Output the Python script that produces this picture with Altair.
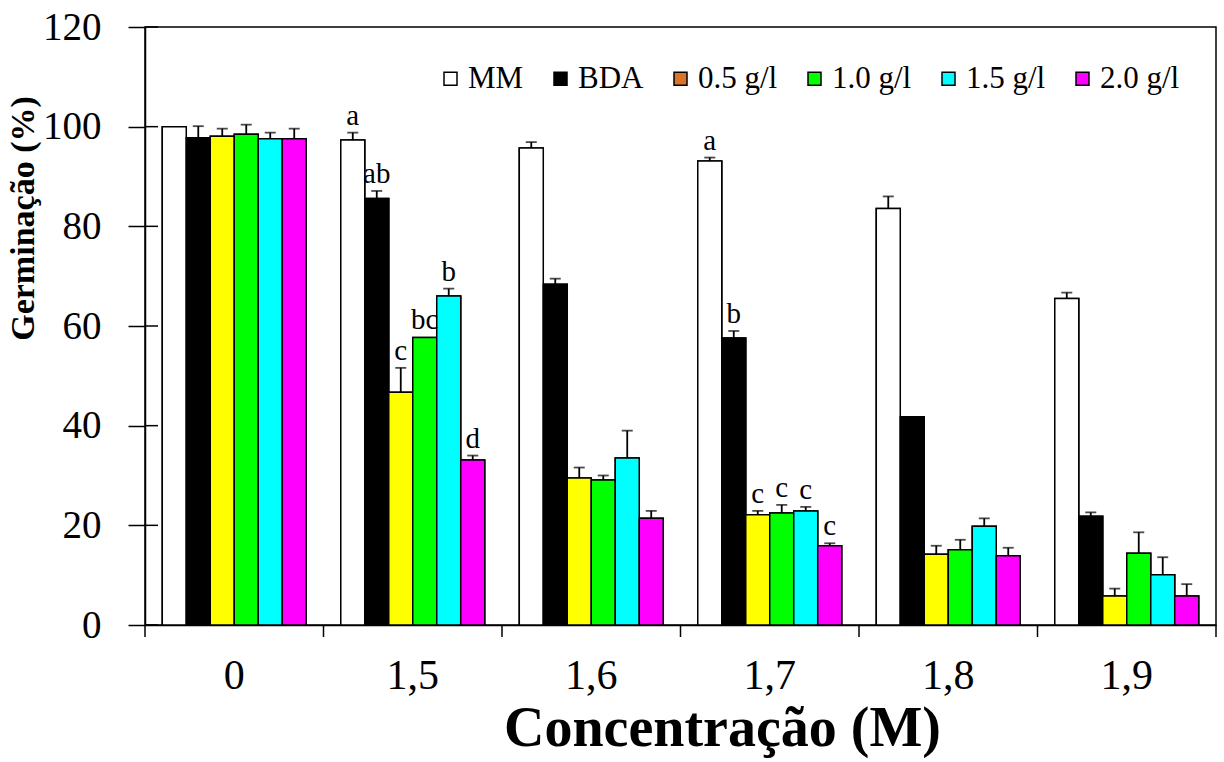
import altair as alt
import pandas as pd

# ---------------- data ----------------
concentracoes = ["0", "1,5", "1,6", "1,7", "1,8", "1,9"]
series = ["MM", "BDA", "0.5 g/l", "1.0 g/l", "1.5 g/l", "2.0 g/l"]

mm = [100.0, 97.3, 95.7, 93.1, 83.6, 65.5]
mm_err = [0.0, 1.5, 1.2, 0.7, 2.4, 1.2]
bda = [97.8, 85.6, 68.4, 57.6, 41.8, 21.8]
bda_err = [2.3, 1.5, 1.1, 1.4, 0.0, 0.8]
g05 = [98.1, 46.7, 29.5, 22.1, 14.2, 5.8]
g05_err = [1.5, 4.9, 2.1, 0.8, 1.7, 1.5]
g10 = [98.5, 57.7, 29.1, 22.5, 15.1, 14.4]
g10_err = [1.9, 0.0, 0.9, 1.6, 2.0, 4.2]
g15 = [97.6, 66.0, 33.5, 22.9, 19.8, 10.1]
g15_err = [1.2, 1.5, 5.5, 0.8, 1.6, 3.5]
g20 = [97.6, 33.1, 21.4, 15.9, 13.9, 5.8]
g20_err = [2.0, 0.9, 1.5, 0.5, 1.6, 2.4]

letras_15 = ["a", "ab", "c", "bc", "b", "d"]
letras_17 = ["a", "b", "c", "c", "c", "c"]
letras = {"1,5": letras_15, "1,7": letras_17}

y_ticks = [0, 20, 40, 60, 80, 100, 120]

bar_colors = ["#ffffff", "#000000", "#ffff00", "#00ff00", "#00ffff", "#ff00ff"]
legend_colors = ["#ffffff", "#000000", "#d9742a", "#00ff00", "#00ffff", "#ff00ff"]

valores = [mm, bda, g05, g10, g15, g20]
erros = [mm_err, bda_err, g05_err, g10_err, g15_err, g20_err]

rows = []
for i, c in enumerate(concentracoes):
    for j, s in enumerate(series):
        v = valores[j][i]
        e = erros[j][i]
        rows.append({
            "Concentracao": c,
            "Serie": s,
            "valor": v,
            "erro": e,
            "topo": v + e,
            "letra": letras[c][j] if c in letras else "",
        })
df = pd.DataFrame(rows)
df_err = df[df["erro"] > 0]
df_let = df[df["letra"] != ""]
df_ticks = pd.DataFrame({"valor": y_ticks})
df_cat = pd.DataFrame({"Concentracao": concentracoes})
df_last = pd.DataFrame({"Concentracao": [concentracoes[-1]]})

FONT = "Liberation Serif"
W, H = 1071, 598

x_scale = alt.Scale(domain=concentracoes, paddingInner=0, paddingOuter=0)
xo_scale = alt.Scale(domain=series, paddingInner=0, paddingOuter=0.72)
y_scale = alt.Scale(domain=[0, 120], nice=False, zero=True)

x_axis = alt.Axis(
    title="Concentração (M)", ticks=False, labelAngle=0,
    labelFont=FONT, labelFontSize=42, labelPadding=30, labelColor="black",
    titleFont=FONT, titleFontSize=56, titleFontWeight="bold", titleColor="black",
    titleX=577, titleY=120, titleBaseline="alphabetic", titleAlign="center",
    domainColor="black", domainWidth=1.5, grid=False,
)
y_axis = alt.Axis(
    title="Germinação (%)", values=y_ticks, tickSize=17, tickWidth=1.5,
    tickColor="black",
    labelFont=FONT, labelFontSize=39, labelPadding=27, labelColor="black",
    titleFont=FONT, titleFontSize=34, titleFontWeight="bold", titleColor="black",
    titleX=-112, titleY=191, titleBaseline="alphabetic", titleAlign="center",
    titleAngle=270, domainColor="black", domainWidth=1.5, grid=False,
)

x_enc = alt.X("Concentracao:N", scale=x_scale, sort=concentracoes, axis=x_axis)
xo = alt.XOffset("Serie:N", scale=xo_scale, sort=series)
y_enc = alt.Y("valor:Q", scale=y_scale, axis=y_axis)
y_top = alt.Y("topo:Q", scale=y_scale, axis=y_axis)

legend_bars = alt.Chart(df).mark_bar(stroke="black", strokeWidth=1.5).encode(
    x=x_enc, xOffset=xo, y=y_enc,
    fill=alt.Fill(
        "Serie:N", sort=series,
        scale=alt.Scale(domain=series, range=legend_colors),
        legend=alt.Legend(
            title=None, orient="none", direction="horizontal",
            legendX=290, legendY=36, symbolType="square", symbolSize=169,
            symbolStrokeColor="black", symbolStrokeWidth=1.5,
            labelFont=FONT, labelFontSize=31, labelColor="black",
            labelOffset=2, columnPadding=21,
        ),
    ),
)

bars = alt.Chart(df).mark_bar(stroke="black", strokeWidth=1.5).encode(
    x=x_enc, xOffset=xo, y=y_enc,
    fill=alt.Fill("Serie:N", sort=series,
                  scale=alt.Scale(domain=series, range=bar_colors), legend=None),
)

err_rules = alt.Chart(df_err).mark_rule(color="black", strokeWidth=1.8).encode(
    x=x_enc, xOffset=xo, y=y_enc, y2="topo:Q",
)

caps = alt.Chart(df_err).mark_tick(color="black", size=11, thickness=1.8).encode(
    x=x_enc, xOffset=xo, y=y_top,
)

letters_layer = alt.Chart(df_let).mark_text(
    font=FONT, fontSize=29, color="black", baseline="bottom", dy=-2
).encode(
    x=x_enc, xOffset=xo, y=y_top, text="letra:N",
)

x_ticks = alt.Chart(df_cat).mark_rule(color="black", strokeWidth=1.5).encode(
    x=alt.X("Concentracao:N", scale=x_scale, sort=concentracoes,
            axis=x_axis, bandPosition=0),
    y=alt.value(H), y2=alt.value(H + 12),
)
x_tick_last = alt.Chart(df_last).mark_rule(color="black", strokeWidth=1.5).encode(
    x=alt.X("Concentracao:N", scale=x_scale, sort=concentracoes,
            axis=x_axis, bandPosition=1),
    y=alt.value(H), y2=alt.value(H + 12),
)

y_inner = alt.Chart(df_ticks).mark_rule(color="black", strokeWidth=1.5).encode(
    y=y_enc, x=alt.value(0), x2=alt.value(13),
)

chart = alt.layer(
    legend_bars, bars, err_rules, caps, letters_layer, x_ticks, x_tick_last, y_inner
).resolve_scale(
    fill="independent"
).properties(
    width=W, height=H,
    autosize=alt.AutoSizeParams(type="none"),
    padding={"left": 145, "top": 27, "right": 8, "bottom": 137},
    background="white",
).configure_view(
    stroke="black", strokeWidth=1.5
).configure_legend(
    labelFont=FONT
)

chart.save("out.html", embed_options={"renderer": "svg", "actions": False})
